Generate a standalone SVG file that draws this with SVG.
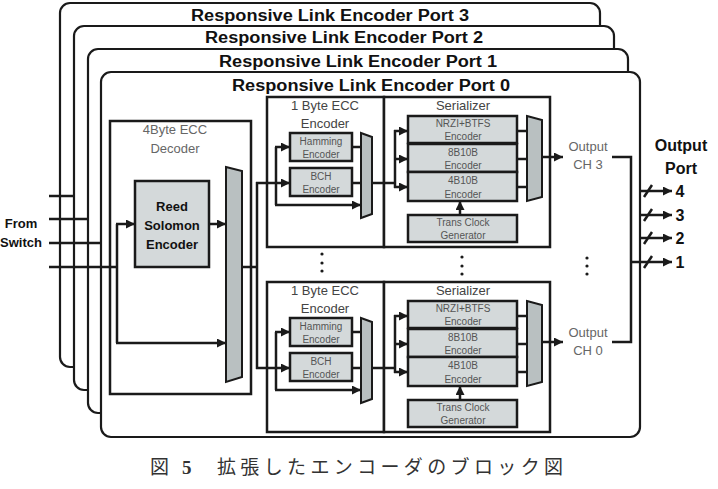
<svg xmlns="http://www.w3.org/2000/svg" width="718" height="489" viewBox="0 0 718 489">
<defs>
<marker id="ah" viewBox="0 0 10 10" refX="10" refY="5" markerWidth="9" markerHeight="9" markerUnits="userSpaceOnUse" orient="auto"><path d="M0,0 L10,5 L0,10 z" fill="#1a1a1a"/></marker>
</defs>
<style>
.frame{fill:#fff;stroke:#1a1a1a;stroke-width:2.2}
.box{fill:#fff;stroke:#1a1a1a;stroke-width:2.5}
.blk{fill:#d4d9da;stroke:#1a1a1a;stroke-width:2.5}
.mux{fill:#b9c0c1;stroke:#1a1a1a;stroke-width:2}
.ln{fill:none;stroke:#1a1a1a;stroke-width:2.5}
.arr{fill:none;stroke:#1a1a1a;stroke-width:2.5;marker-end:url(#ah)}
.ttl{font-family:"Liberation Sans",Arial,sans-serif;font-weight:bold;font-size:16px;fill:#111;text-anchor:middle}
.bold{font-family:"Liberation Sans",Arial,sans-serif;font-weight:bold;fill:#111;text-anchor:middle}
.lbl{font-family:"Liberation Sans",Arial,sans-serif;font-size:13px;fill:#444;text-anchor:middle}
.glbl{font-family:"Liberation Sans",Arial,sans-serif;font-size:13px;fill:#666;text-anchor:middle}
.sm{font-family:"Liberation Sans",Arial,sans-serif;font-size:10px;fill:#555;text-anchor:middle}
.dot{fill:#1a1a1a}
</style>

<g id="port3"><rect class="frame" x="60" y="3" width="540" height="364" rx="10"/><text class="ttl" x="330" y="21" textLength="278" lengthAdjust="spacingAndGlyphs">Responsive Link Encoder Port 3</text></g>
<g id="port2"><rect class="frame" x="74" y="26" width="540" height="364" rx="10"/><text class="ttl" x="344" y="43" textLength="278" lengthAdjust="spacingAndGlyphs">Responsive Link Encoder Port 2</text></g>
<g id="port1"><rect class="frame" x="88" y="49" width="540" height="364" rx="10"/><text class="ttl" x="358" y="67" textLength="278" lengthAdjust="spacingAndGlyphs">Responsive Link Encoder Port 1</text></g>
<g id="port0"><rect class="frame" x="101" y="72" width="539" height="365" rx="10"/><text class="ttl" x="371" y="91" textLength="278" lengthAdjust="spacingAndGlyphs">Responsive Link Encoder Port 0</text></g>

<g id="from-switch"><text class="bold" font-size="13" x="21" y="228">From</text><text class="bold" font-size="13" x="21" y="247">Switch</text></g>

<g id="decoder"><rect class="box" x="110" y="121" width="141" height="273"/><text class="glbl" x="175" y="134">4Byte ECC</text><text class="glbl" x="175" y="153">Decoder</text></g>
<g id="rs-encoder"><rect class="blk" x="135" y="181" width="74" height="86"/><text class="bold" font-size="13" x="172" y="211">Reed</text><text class="bold" font-size="13" x="172" y="230">Solomon</text><text class="bold" font-size="13" x="172" y="249">Encoder</text></g>
<g id="dec-mux"><polygon class="mux" points="226,167 242,171 242,377 226,382"/></g>

<g id="ecc-top">
<rect class="box" x="267" y="97" width="117" height="150"/>
<text class="lbl" x="325" y="110">1 Byte ECC</text><text class="lbl" x="325" y="128">Encoder</text>
<g id="hamming-top"><rect class="blk" x="290" y="133" width="62" height="28"/><text class="sm" x="321" y="145">Hamming</text><text class="sm" x="321" y="158">Encoder</text></g>
<g id="bch-top"><rect class="blk" x="290" y="168" width="62" height="28"/><text class="sm" x="321" y="180">BCH</text><text class="sm" x="321" y="193">Encoder</text></g>
<g id="ecc-mux-top"><polygon class="mux" points="361,133 372,137 372,214 361,218"/></g>
</g>
<g id="ser-top">
<rect class="box" x="384" y="97" width="166" height="150"/>
<text class="lbl" x="463" y="110">Serializer</text>
<g id="nrzi-top"><rect class="blk" x="408" y="116" width="109" height="27"/><text class="sm" x="463" y="127">NRZI+BTFS</text><text class="sm" x="463" y="140">Encoder</text></g>
<g id="b8-top"><rect class="blk" x="408" y="144" width="109" height="28"/><text class="sm" x="463" y="156">8B10B</text><text class="sm" x="463" y="169">Encoder</text></g>
<g id="b4-top"><rect class="blk" x="408" y="172" width="109" height="29"/><text class="sm" x="463" y="184">4B10B</text><text class="sm" x="463" y="198">Encoder</text></g>
<g id="clk-top"><rect class="blk" x="408" y="215" width="109" height="27"/><text class="sm" x="463" y="226">Trans Clock</text><text class="sm" x="463" y="239">Generator</text></g>
<g id="ser-mux-top"><polygon class="mux" points="527,116 542,120 542,197 527,201"/></g>
</g>

<g id="ecc-bot" transform="translate(0,185)">
<rect class="box" x="267" y="97" width="117" height="150"/>
<text class="lbl" x="325" y="110">1 Byte ECC</text><text class="lbl" x="325" y="128">Encoder</text>
<g id="hamming-bot"><rect class="blk" x="290" y="133" width="62" height="28"/><text class="sm" x="321" y="145">Hamming</text><text class="sm" x="321" y="158">Encoder</text></g>
<g id="bch-bot"><rect class="blk" x="290" y="168" width="62" height="28"/><text class="sm" x="321" y="180">BCH</text><text class="sm" x="321" y="193">Encoder</text></g>
<g id="ecc-mux-bot"><polygon class="mux" points="361,133 372,137 372,214 361,218"/></g>
</g>
<g id="ser-bot" transform="translate(0,185)">
<rect class="box" x="384" y="97" width="166" height="150"/>
<text class="lbl" x="463" y="110">Serializer</text>
<g id="nrzi-bot"><rect class="blk" x="408" y="116" width="109" height="27"/><text class="sm" x="463" y="127">NRZI+BTFS</text><text class="sm" x="463" y="140">Encoder</text></g>
<g id="b8-bot"><rect class="blk" x="408" y="144" width="109" height="28"/><text class="sm" x="463" y="156">8B10B</text><text class="sm" x="463" y="169">Encoder</text></g>
<g id="b4-bot"><rect class="blk" x="408" y="172" width="109" height="29"/><text class="sm" x="463" y="184">4B10B</text><text class="sm" x="463" y="198">Encoder</text></g>
<g id="clk-bot"><rect class="blk" x="408" y="215" width="109" height="27"/><text class="sm" x="463" y="226">Trans Clock</text><text class="sm" x="463" y="239">Generator</text></g>
<g id="ser-mux-bot"><polygon class="mux" points="527,116 542,120 542,197 527,201"/></g>
</g>

<g id="out-ch3"><text class="glbl" x="588" y="151">Output</text><text class="glbl" x="588" y="169">CH 3</text></g>
<g id="out-ch0"><text class="glbl" x="588" y="337">Output</text><text class="glbl" x="588" y="355">CH 0</text></g>
<g id="output-port"><text class="bold" font-size="16" x="681" y="151">Output</text><text class="bold" font-size="16" x="681" y="174">Port</text>
<text class="bold" font-size="16" x="680" y="197">4</text><text class="bold" font-size="16" x="680" y="221">3</text><text class="bold" font-size="16" x="680" y="244">2</text><text class="bold" font-size="16" x="680" y="268">1</text></g>

<g id="ellipses">
<circle class="dot" cx="322" cy="254" r="1.6"/><circle class="dot" cx="322" cy="263" r="1.6"/><circle class="dot" cx="322" cy="271" r="1.6"/>
<circle class="dot" cx="462" cy="257" r="1.6"/><circle class="dot" cx="462" cy="266" r="1.6"/><circle class="dot" cx="462" cy="274" r="1.6"/>
<circle class="dot" cx="587" cy="258" r="1.6"/><circle class="dot" cx="587" cy="266" r="1.6"/><circle class="dot" cx="587" cy="274" r="1.6"/>
</g>

<g id="connectors">
<line class="ln" x1="49" y1="196" x2="74" y2="196"/>
<line class="ln" x1="49" y1="219" x2="89" y2="219"/>
<line class="ln" x1="49" y1="243" x2="101" y2="243"/>
<line class="ln" x1="49" y1="267" x2="117" y2="267"/>
<line class="ln" x1="117" y1="224" x2="117" y2="343"/>
<line class="arr" x1="116" y1="224" x2="135" y2="224"/>
<line class="arr" x1="116" y1="343" x2="226" y2="343"/>
<line class="arr" x1="209" y1="224" x2="226" y2="224"/>
<line class="ln" x1="242" y1="267" x2="257" y2="267"/>
<line class="ln" x1="257" y1="182" x2="257" y2="369"/>
<g id="conn-top">
<line class="arr" x1="256" y1="183" x2="290" y2="183"/>
<line class="ln" x1="276" y1="147" x2="276" y2="205"/>
<line class="arr" x1="275" y1="147" x2="290" y2="147"/>
<line class="arr" x1="275" y1="205" x2="361" y2="205"/>
<line class="ln" x1="352" y1="147" x2="361" y2="147"/>
<line class="ln" x1="352" y1="183" x2="361" y2="183"/>
<line class="ln" x1="372" y1="183" x2="395" y2="183"/>
<line class="ln" x1="395" y1="130" x2="395" y2="188"/>
<line class="arr" x1="394" y1="131" x2="408" y2="131"/>
<line class="arr" x1="394" y1="159" x2="408" y2="159"/>
<line class="arr" x1="394" y1="187" x2="408" y2="187"/>
<line class="arr" x1="460" y1="215" x2="460" y2="201"/>
<line class="ln" x1="517" y1="131" x2="527" y2="131"/>
<line class="ln" x1="517" y1="159" x2="527" y2="159"/>
<line class="ln" x1="517" y1="187" x2="527" y2="187"/>
<line class="arr" x1="542" y1="157" x2="563" y2="157"/>
</g>
<g id="conn-bot" transform="translate(0,185)">
<line class="arr" x1="256" y1="183" x2="290" y2="183"/>
<line class="ln" x1="276" y1="147" x2="276" y2="205"/>
<line class="arr" x1="275" y1="147" x2="290" y2="147"/>
<line class="arr" x1="275" y1="205" x2="361" y2="205"/>
<line class="ln" x1="352" y1="147" x2="361" y2="147"/>
<line class="ln" x1="352" y1="183" x2="361" y2="183"/>
<line class="ln" x1="372" y1="183" x2="395" y2="183"/>
<line class="ln" x1="395" y1="130" x2="395" y2="188"/>
<line class="arr" x1="394" y1="131" x2="408" y2="131"/>
<line class="arr" x1="394" y1="159" x2="408" y2="159"/>
<line class="arr" x1="394" y1="187" x2="408" y2="187"/>
<line class="arr" x1="460" y1="215" x2="460" y2="201"/>
<line class="ln" x1="517" y1="131" x2="527" y2="131"/>
<line class="ln" x1="517" y1="159" x2="527" y2="159"/>
<line class="ln" x1="517" y1="187" x2="527" y2="187"/>
<line class="arr" x1="542" y1="157" x2="563" y2="157"/>
</g>
<polyline class="ln" points="612,157 631,157 631,342 612,342"/>
<line class="arr" x1="640" y1="191" x2="672" y2="191"/>
<line class="arr" x1="640" y1="215" x2="672" y2="215"/>
<line class="arr" x1="640" y1="238" x2="672" y2="238"/>
<line class="arr" x1="630" y1="262" x2="672" y2="262"/>
<line class="ln" stroke-width="2" x1="644" y1="197" x2="652" y2="185"/>
<line class="ln" stroke-width="2" x1="644" y1="221" x2="652" y2="209"/>
<line class="ln" stroke-width="2" x1="644" y1="244" x2="652" y2="232"/>
<line class="ln" stroke-width="2" x1="644" y1="268" x2="652" y2="256"/>
</g>

<g id="caption" font-family="'Liberation Serif','Noto Sans CJK JP',serif" fill="#333" font-size="19">
<text x="150" y="474">図</text>
<text x="182" y="474" font-weight="bold">5</text>
<text x="217" y="474" textLength="346" lengthAdjust="spacing">拡張したエンコーダのブロック図</text>
</g>
</svg>
